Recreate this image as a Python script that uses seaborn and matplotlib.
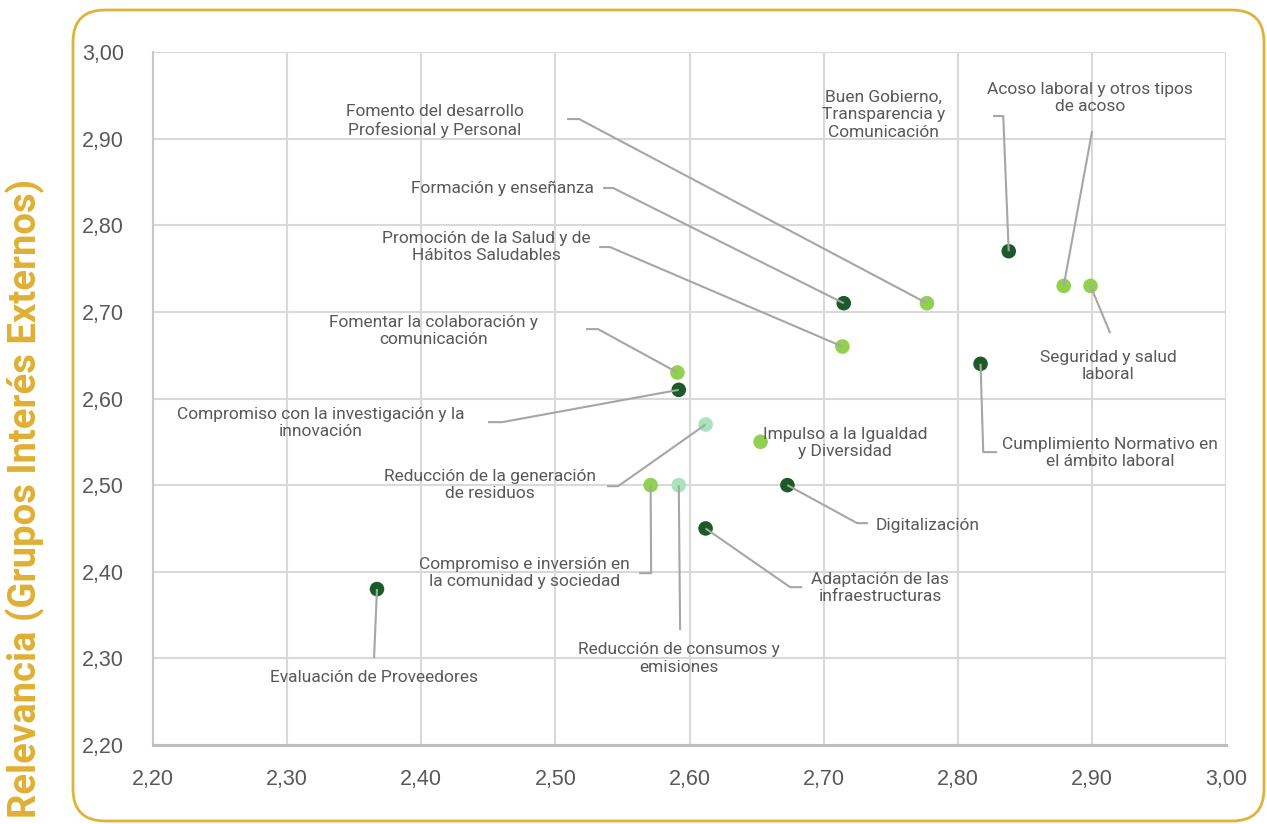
import matplotlib
matplotlib.use("Agg")
import matplotlib.pyplot as plt
import seaborn as sns
import pandas as pd
from matplotlib.patches import FancyBboxPatch
from matplotlib.ticker import FuncFormatter

# ---- data ------------------------------------------------------------
temas = [
    "Evaluación de Proveedores",
    "Formación y enseñanza",
    "Fomento del desarrollo\nProfesional y Personal",
    "Buen Gobierno,\nTransparencia y\nComunicación",
    "Acoso laboral y otros tipos\nde acoso",
    "Seguridad y salud\nlaboral",
    "Promoción de la Salud y de\nHábitos Saludables",
    "Fomentar la colaboración y\ncomunicación",
    "Compromiso con la investigación y la\ninnovación",
    "Reducción de la generación\nde residuos",
    "Impulso a la Igualdad\ny Diversidad",
    "Cumplimiento Normativo en\nel ámbito laboral",
    "Digitalización",
    "Compromiso e inversión en\nla comunidad y sociedad",
    "Reducción de consumos y\nemisiones",
    "Adaptación de las\ninfraestructuras",
]
impacto = [2.367, 2.715, 2.777, 2.838, 2.879, 2.899, 2.714, 2.591,
           2.592, 2.612, 2.653, 2.817, 2.673, 2.571, 2.592, 2.612]
relevancia = [2.38, 2.71, 2.71, 2.77, 2.73, 2.73, 2.66, 2.63,
              2.61, 2.57, 2.55, 2.64, 2.50, 2.50, 2.50, 2.45]
dimension = ["Económica", "Económica", "Social", "Económica", "Social",
             "Social", "Social", "Social", "Económica", "Ambiental",
             "Social", "Económica", "Económica", "Social", "Ambiental",
             "Económica"]
ticks = [2.20, 2.30, 2.40, 2.50, 2.60, 2.70, 2.80, 2.90, 3.00]

# ---- label layout: text centre and leader elbow (x_start, x_end, y) ----
label_xy = [
    (2.3648, 2.2783), (2.4603, 2.8430), (2.4103, 2.9203), (2.7444, 2.9273),
    (2.8987, 2.9469), (2.9121, 2.6374), (2.4483, 2.7748), (2.4095, 2.6778),
    (2.3253, 2.5716), (2.4513, 2.5000), (2.7160, 2.5485), (2.9136, 2.5370),
    (2.7779, 2.4538), (2.4767, 2.3984), (2.5922, 2.3002), (2.7421, 2.3811),
]
elbows = [
    (2.3648, 2.3648, 2.3002), (2.5356, 2.5430, 2.8430),
    (2.5087, 2.5177, 2.9226), (2.8264, 2.8339, 2.9261),
    (2.9002, 2.9002, 2.9088), (2.9136, 2.9136, 2.6755),
    (2.5326, 2.5408, 2.7748), (2.5229, 2.5318, 2.6801),
    (2.4498, 2.4603, 2.5727), (2.5386, 2.5468, 2.4988),
    None, (2.8294, 2.8190, 2.5381),
    (2.7332, 2.7250, 2.4561), (2.5624, 2.5714, 2.3984),
    (2.5930, 2.5930, 2.3326), (2.6840, 2.6750, 2.3822),
]

df = pd.DataFrame({"tema": temas, "impacto": impacto,
                   "relevancia": relevancia, "dimension": dimension})
palette = {"Económica": "#1d5a2a", "Social": "#92d050",
           "Ambiental": "#a9e2bd"}

sns.set_theme(style="white")
label_font = ["Roboto", "DejaVu Sans"]
plt.rcParams["font.family"] = ["Liberation Sans", "DejaVu Sans"]

fig = plt.figure(figsize=(12.67, 8.24), dpi=100)
ax = fig.add_axes([153 / 1267, 1 - 745 / 824, 1073 / 1267, 693 / 824])

sns.scatterplot(data=df, x="impacto", y="relevancia", hue="dimension",
                palette=palette, s=110, linewidth=0, legend=False,
                ax=ax, zorder=3, clip_on=False)

grey_text = "#595959"
leader = "#a6a6a6"
for (tx, ty), elb, txt, px, py in zip(label_xy, elbows, temas,
                                      impacto, relevancia):
    ax.text(tx, ty, txt, ha="center", va="center", fontsize=12.5,
            color=grey_text, family=label_font, linespacing=1.22, zorder=5)
    if elb is not None:
        x0, x1, ye = elb
        ax.plot([x0, x1, px], [ye, ye, py], color=leader, lw=1.5,
                zorder=4, solid_capstyle="butt", clip_on=False)

ax.set_xlim(2.2, 3.0)
ax.set_ylim(2.2, 3.0)
ax.set_xticks(ticks)
ax.set_yticks(ticks)
fmt = FuncFormatter(lambda v, _: f"{v:.2f}".replace(".", ","))
ax.xaxis.set_major_formatter(fmt)
ax.yaxis.set_major_formatter(fmt)
ax.tick_params(axis="both", length=0, labelsize=15.5, colors=grey_text)
ax.tick_params(axis="x", pad=17)
ax.tick_params(axis="y", pad=21)
ax.grid(True, color="#d9d9d9", lw=1.5)
ax.set_axisbelow(True)
for side in ("top", "right"):
    ax.spines[side].set_visible(False)
ax.spines["left"].set_color("#c8c8c8")
ax.spines["left"].set_linewidth(1.5)
ax.spines["bottom"].set_color("#bfbfbf")
ax.spines["bottom"].set_linewidth(2.2)
ax.set_xlabel("")
ax.set_ylabel("")

# rounded frame around the plotting area
frame = FancyBboxPatch((104, 34), 1129, 749,
                       boxstyle="round,pad=31,rounding_size=32",
                       transform=None, fill=False, edgecolor="#dfb23a",
                       lw=2.0, zorder=0)
fig.add_artist(frame)

fig.text(25 / 1267, 1 - 498 / 824, "Relevancia (Grupos Interés Externos)",
         rotation=90, ha="center", va="center", fontsize=27.5,
         fontweight="bold", color="#e0b034",
         family=["Roboto", "DejaVu Sans"])

fig.savefig("out.png", dpi=100)
